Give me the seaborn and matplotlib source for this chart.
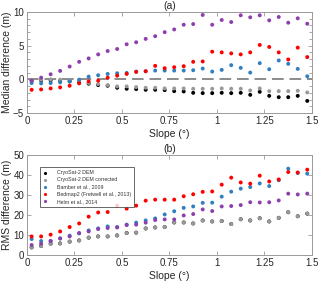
import matplotlib
matplotlib.use("Agg")
import numpy as np
import pandas as pd
import matplotlib.pyplot as plt
import seaborn as sns

## Slope bins (degrees)
slope = [0.025, 0.075, 0.125, 0.175, 0.225, 0.275, 0.325, 0.375, 0.425, 0.475,
         0.525, 0.575, 0.625, 0.675, 0.725, 0.775, 0.825, 0.875, 0.925, 0.975,
         1.025, 1.075, 1.125, 1.175, 1.225, 1.275, 1.325, 1.375, 1.425, 1.475]

sources = ["CryoSat-2 DEM", "CryoSat-2 DEM corrected", "Bamber et al., 2009",
           "Bedmap2 (Fretwell et al., 2013)", "Helm et al., 2014"]
colors = ["#000000", "#999999", "#2f7fc1", "#ff0000", "#8e3fae"]

## (a) median difference
med_cs2 = [-0.2, -0.15, -0.15, -0.2, -0.3, -0.45, -0.65, -0.85, -0.95, -1.25,
           -1.4, -1.45, -1.55, -1.55, -1.6, -1.75, -1.8, -2.0, -2.05, -2.05,
           -2.0, -2.05, -2.0, -2.3, -1.85, -2.45, -2.65, -2.65, -2.45, -3.2]
med_cs2c = [-0.1, -0.05, 0.0, -0.05, -0.1, -0.2, -0.55, -0.7, -0.85, -1.05,
            -1.05, -1.15, -1.25, -1.25, -1.35, -1.35, -1.35, -1.4, -1.4, -1.4,
            -1.35, -1.4, -1.4, -1.65, -1.35, -1.75, -1.75, -1.75, -1.7, -1.95]
med_bamber = [-0.55, -0.6, -0.55, -0.45, -0.3, -0.05, 0.4, 0.6, 0.8, 0.9,
              0.95, 1.15, 1.2, 1.3, 1.3, 1.3, 1.3, 1.35, 1.6, 1.15,
              1.4, 2.1, 1.7, 1.0, 2.4, 1.5, 2.8, 2.3, 1.55, 0.45]
med_bedmap = [-1.55, -1.5, -1.35, -1.2, -0.95, -0.6, -0.3, -0.2, 0.25, 0.55,
              0.8, 1.1, 1.2, 2.0, 1.65, 1.8, 1.95, 2.6, 2.65, 4.1,
              4.0, 3.85, 3.7, 4.0, 5.1, 4.8, 4.0, 2.95, 4.7, 3.3]
med_helm = [-0.2, 0.25, 0.75, 1.25, 1.9, 2.6, 3.1, 3.7, 4.2, 4.5,
            5.2, 5.5, 6.0, 6.4, 7.0, 7.4, 8.1, 8.2, 9.55, 8.1,
            8.8, 8.5, 9.5, 9.2, 9.5, 8.75, 9.25, 8.4, 9.05, 8.25]

## (b) RMS difference
rms_cs2 = [3.8, 4.5, 5.7, 5.8, 6.7, 7.3, 8.7, 9.3, 9.3, 9.8,
           11.0, 11.2, 13.3, 13.8, 14.0, 16.3, 16.3, 15.8, 17.3, 16.8,
           17.0, 15.5, 17.9, 17.3, 18.4, 16.8, 18.6, 21.4, 19.4, 20.7]
rms_cs2c = [3.8, 4.5, 5.7, 5.8, 6.7, 7.3, 8.7, 9.3, 9.3, 9.8,
            11.0, 11.2, 13.3, 13.8, 14.0, 16.3, 16.3, 15.8, 17.3, 16.8,
            17.0, 15.5, 17.9, 17.3, 18.4, 16.8, 18.6, 21.4, 19.4, 20.7]
rms_bamber = [8.0, 7.0, 7.0, 8.3, 9.7, 10.8, 12.3, 13.3, 14.3, 14.0,
              15.2, 16.2, 17.3, 18.3, 20.3, 21.9, 23.6, 24.3, 26.1, 26.2,
              29.2, 31.7, 33.2, 34.0, 35.8, 34.5, 37.4, 43.2, 41.0, 40.7]
rms_bedmap = [9.3, 9.3, 10.2, 11.8, 14.0, 15.8, 19.2, 21.3, 21.5, 24.7,
              23.2, 24.7, 27.2, 27.7, 27.7, 27.7, 29.4, 30.4, 31.6, 31.8,
              35.2, 38.7, 36.3, 35.7, 39.7, 36.8, 37.8, 41.5, 41.3, 42.7]
rms_helm = [5.0, 5.7, 7.0, 8.3, 9.3, 11.0, 11.8, 13.0, 13.5, 13.8,
            15.0, 15.2, 16.2, 17.5, 17.8, 17.8, 19.8, 20.5, 22.8, 22.0,
            24.3, 24.5, 25.0, 26.4, 26.3, 26.4, 27.3, 30.7, 30.3, 30.7]


def long_df(series):
    frames = []
    for name, vals in zip(sources, series):
        frames.append(pd.DataFrame({"slope": slope, "value": vals, "source": name}))
    return pd.concat(frames, ignore_index=True)


df_med = long_df([med_cs2, med_cs2c, med_bamber, med_bedmap, med_helm])
df_rms = long_df([rms_cs2, rms_cs2c, rms_bamber, rms_bedmap, rms_helm])

sns.set_style("ticks")
plt.rcParams["font.family"] = ["Liberation Sans", "DejaVu Sans"]
plt.rcParams["axes.edgecolor"] = "#9a9a9a"
plt.rcParams["xtick.color"] = "#9a9a9a"
plt.rcParams["ytick.color"] = "#9a9a9a"
plt.rcParams["xtick.labelcolor"] = "#262626"
plt.rcParams["ytick.labelcolor"] = "#262626"

fig = plt.figure(figsize=(3.2, 2.84), dpi=100)
ax1 = fig.add_axes([0.084, 0.602, 0.891, 0.356])
ax2 = fig.add_axes([0.084, 0.102, 0.891, 0.352])

pal = dict(zip(sources, colors))

## Panel (a)
ax1.axhline(0, color="#8c8c8c", ls=(0, (6, 3)), lw=1.4, zorder=1)
sns.scatterplot(data=df_med, x="slope", y="value", hue="source", palette=pal,
                s=8, linewidth=0, legend=False, ax=ax1, zorder=3)
ax1.set_xlim(0, 1.5)
ax1.set_ylim(-5, 10)
ax1.set_yticks([-5, 0, 5, 10])
ax1.set_yticks(np.arange(-5, 11, 1), minor=True)
ax1.set_ylabel("Median difference (m)", fontsize=7.5, labelpad=1)
ax1.set_xlabel("Slope (°)", fontsize=7.5, labelpad=2)
ax1.set_title("(a)", fontsize=7.5, pad=2)

## Panel (b)
sns.scatterplot(data=df_rms, x="slope", y="value", hue="source", palette=pal,
                s=8, linewidth=0, ax=ax2, zorder=3)
ax2.set_xlim(0, 1.5)
ax2.set_ylim(0, 50)
ax2.set_yticks([0, 10, 20, 30, 40, 50])
ax2.set_ylabel("RMS difference (m)", fontsize=7.5, labelpad=1)
ax2.set_xlabel("Slope (°)", fontsize=7.5, labelpad=2)
ax2.set_title("(b)", fontsize=7.5, pad=2)

handles, labels = ax2.get_legend_handles_labels()
leg = ax2.legend(handles, labels, loc="upper left", bbox_to_anchor=(0.037, 0.905),
                 fontsize=3.8, frameon=True, fancybox=False, handlelength=0.8,
                 handletextpad=1.8, borderpad=0.6, labelspacing=0.4,
                 markerscale=0.8)
leg.get_frame().set_edgecolor("#404040")
leg.get_frame().set_linewidth(0.7)
for t in leg.get_texts():
    t.set_color("#333333")

for ax in (ax1, ax2):
    ax.set_xticks([0, 0.25, 0.5, 0.75, 1, 1.25, 1.5])
    ax.set_xticklabels(["0", "0.25", "0.5", "0.75", "1", "1.25", "1.5"])
    ax.tick_params(which="both", direction="in", top=True, right=True,
                   labelsize=7, pad=2)
    ax.tick_params(which="major", length=3, width=0.6)
    ax.tick_params(which="minor", length=2, width=0.6)
    for sp in ax.spines.values():
        sp.set_visible(True)
        sp.set_linewidth(0.7)

fig.savefig("out.png", dpi=100)
